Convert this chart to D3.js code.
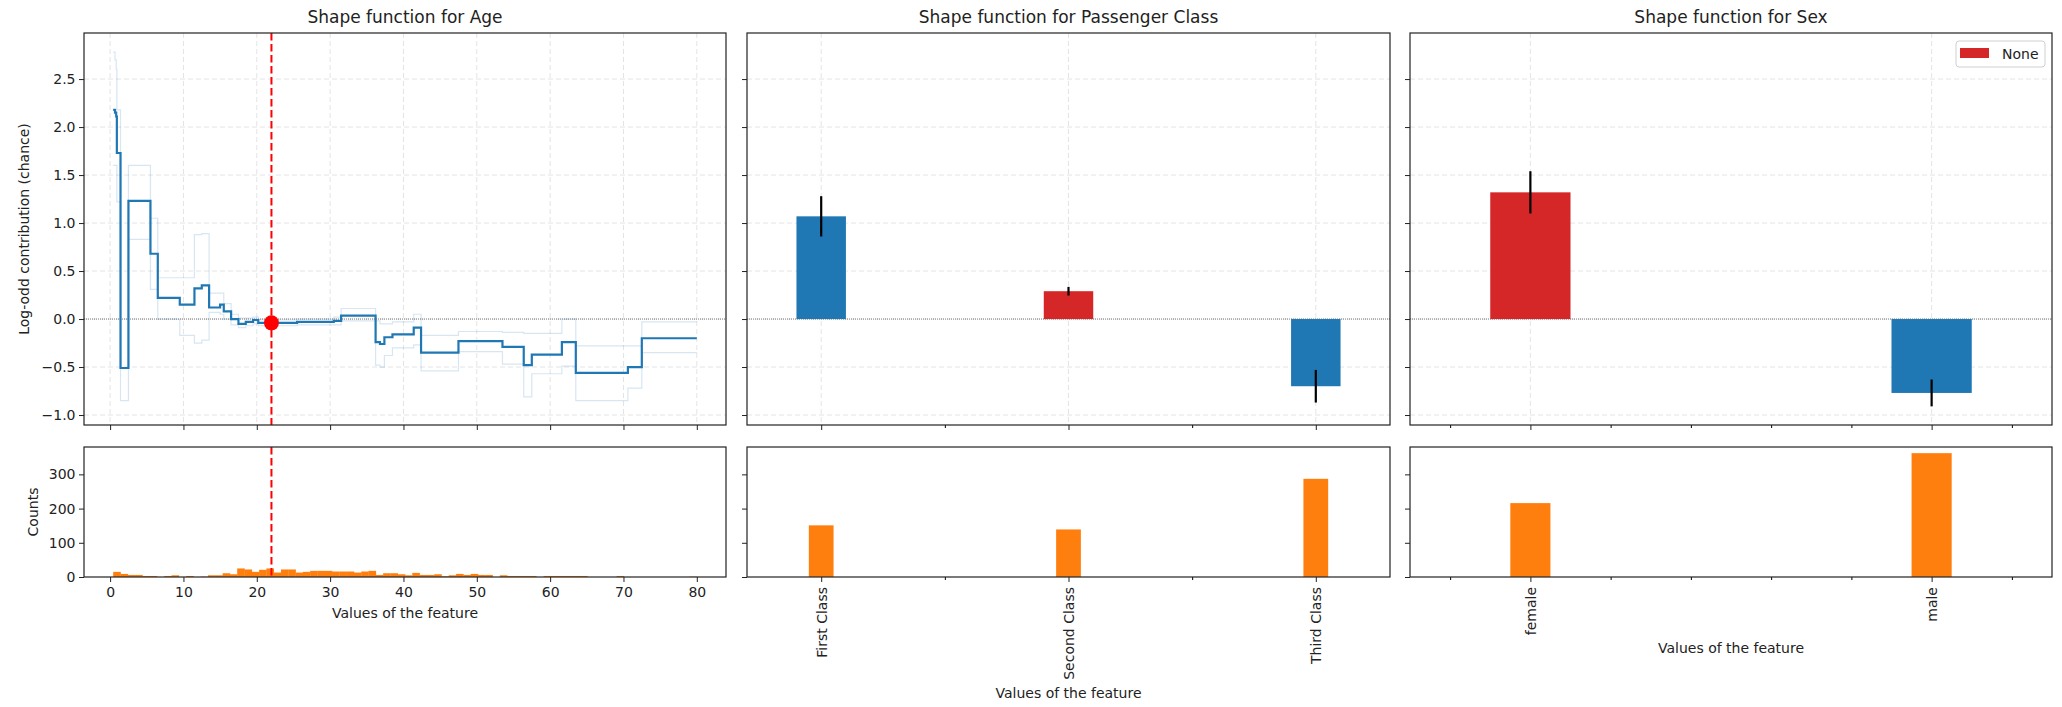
<!DOCTYPE html>
<html>
<head>
<meta charset="utf-8">
<script src="https://cdn.jsdelivr.net/npm/d3@7"></script>
<style>
  body { margin: 0; background: #fff; }
  text { font-family: "DejaVu Sans", sans-serif; fill: #222; }
</style>
</head>
<body>
<svg id="chart" width="2062" height="707"></svg>
<script>
// ---- Age shape function (step starts, values, confidence band) ----
const ageSteps = [0.42, 0.67, 0.83, 0.92, 1.42, 2.5, 5.5, 6.5, 9.5, 11.5, 12.5, 13.5, 15, 15.5, 16.5, 17.5, 18.5, 19.5, 20.2, 25.5, 30.5, 31.5, 36.2, 36.8, 37.4, 38.5, 41.4, 42.4, 47.5, 53.5, 56.4, 57.5, 61.6, 63.5, 70.6, 72.5, 80];
const ageShape = [2.18, 2.15, 2.11, 1.73, -0.51, 1.23, 0.68, 0.22, 0.15, 0.32, 0.35, 0.12, 0.15, 0.08, 0.0, -0.05, -0.03, -0.01, -0.04, -0.03, -0.02, 0.035, -0.24, -0.26, -0.19, -0.16, -0.09, -0.35, -0.23, -0.29, -0.48, -0.37, -0.24, -0.56, -0.50, -0.20, -0.20];
const ageUpper = [2.78, 2.70, 2.60, 2.18, -0.51, 1.60, 1.05, 0.43, 0.43, 0.88, 0.89, 0.27, 0.27, 0.16, 0.05, 0.01, 0.01, 0.02, -0.01, 0.0, 0.02, 0.11, -0.02, -0.05, -0.05, -0.03, 0.05, -0.17, -0.13, -0.14, -0.15, -0.15, 0.0, -0.28, -0.28, -0.03, -0.03];
const ageLower = [1.60, 1.60, 1.60, 1.22, -0.85, 0.83, 0.31, 0.0, -0.17, -0.25, -0.22, 0.07, 0.05, 0.0, -0.06, -0.09, -0.07, -0.05, -0.07, -0.06, -0.06, -0.02, -0.48, -0.50, -0.38, -0.30, -0.27, -0.54, -0.34, -0.47, -0.81, -0.57, -0.49, -0.85, -0.72, -0.35, -0.35];
const selectedAge = 22;
const selectedAgeValue = -0.04;

// ---- Age histogram (bins of ~1 year from 0.42 to 80) ----
const ageBinStart = 0.42, ageBinEnd = 80;
const ageCounts = [15, 9, 6, 6, 3, 3, 0, 3, 5, 0, 3, 0, 1, 5, 5, 11, 8, 25, 22, 15, 21, 25, 13, 22, 22, 13, 15, 18, 18, 18, 16, 16, 16, 13, 16, 18, 6, 11, 11, 8, 5, 12, 6, 6, 8, 2, 5, 9, 6, 9, 6, 6, 0, 5, 3, 3, 3, 3, 0, 3, 3, 3, 3, 3, 3, 0, 0, 0, 0, 3, 0, 0, 0, 0, 0, 0, 0, 0, 0, 1];

// ---- Passenger class ----
const classNames = ["First Class", "Second Class", "Third Class"];
const classEffect = [1.07, 0.29, -0.70];
const classErr = [0.21, 0.045, 0.17];
const classCounts = [151, 139, 287];
const classSelected = [false, true, false];

// ---- Sex ----
const sexNames = ["female", "male"];
const sexEffect = [1.32, -0.77];
const sexErr = [0.22, 0.14];
const sexCounts = [216, 362];
const sexSelected = [true, false];

const effectTicks = [-1.0, -0.5, 0.0, 0.5, 1.0, 1.5, 2.0, 2.5];
const countTicks = [0, 100, 200, 300];
const ageTicks = [0, 10, 20, 30, 40, 50, 60, 70, 80];

const BLUE = "#1f77b4", RED = "#d62728", ORANGE = "#ff7f0e";

const svg = d3.select("#chart");

const yEff = d3.scaleLinear().domain([-1.104, 2.98]).range([425, 33]);
const yCnt = d3.scaleLinear().domain([0, 380]).range([577, 447]);
const xAge = d3.scaleLinear().domain([-3.56, 83.98]).range([84, 726]);
const xCls = d3.scaleLinear().domain([-0.3, 2.3]).range([747, 1390]);
const xSex = d3.scaleLinear().domain([-0.3, 1.3]).range([1410, 2052]);

function panel(x, y, opts) {
  const g = svg.append("g");
  const [x0, x1] = x.range();
  const [y1, y0] = y.range();
  const grid = g.append("g");
  if (opts.grid) {
    grid.selectAll(".gx").data(opts.xTicks).join("line")
      .attr("x1", d => x(d)).attr("x2", d => x(d))
      .attr("y1", y0).attr("y2", y1)
      .attr("stroke", "#e4e4e4").attr("stroke-dasharray", "5,3").attr("stroke-width", 1);
    grid.selectAll(".gy").data(opts.yTicks).join("line")
      .attr("x1", x0).attr("x2", x1)
      .attr("y1", d => y(d)).attr("y2", d => y(d))
      .attr("stroke", "#e4e4e4").attr("stroke-dasharray", "5,3").attr("stroke-width", 1);
  }
  const content = g.append("g");

  // axes
  const ax = g.append("g").attr("transform", `translate(0,${y1})`)
    .call(d3.axisBottom(x).tickValues(opts.xTicks).tickSize(5).tickPadding(5)
      .tickFormat(opts.xLabels ? opts.xFormat : ""));
  if (opts.xMinor) {
    g.append("g").attr("transform", `translate(0,${y1})`)
      .call(d3.axisBottom(x).tickValues(opts.xMinor).tickSize(3).tickFormat(""))
      .call(s => s.select(".domain").remove());
  }
  const ay = g.append("g").attr("transform", `translate(${x0},0)`)
    .call(d3.axisLeft(y).tickValues(opts.yTicks).tickSize(5).tickPadding(3.5)
      .tickFormat(opts.yLabels ? opts.yFormat : ""));
  [ax, ay].forEach(a => {
    a.select(".domain").remove();
    a.selectAll(".tick line").attr("stroke", "#222");
    a.selectAll(".tick text").attr("font-size", 14).attr("fill", "#222")
      .style("font-family", "'DejaVu Sans', sans-serif");
  });
  if (opts.rotateX) {
    ax.selectAll(".tick text")
      .attr("text-anchor", "end")
      .attr("transform", "rotate(-90)")
      .attr("x", -10).attr("y", 0).attr("dy", "0.35em");
  }
  g.append("rect").attr("x", x0).attr("y", y0)
    .attr("width", x1 - x0).attr("height", y1 - y0)
    .attr("fill", "none").attr("stroke", "#222").attr("stroke-width", 1.2);
  return content;
}

// ---------- Age top ----------
const ageTop = panel(xAge, yEff, {
  grid: true, xTicks: ageTicks, yTicks: effectTicks, yLabels: true,
  yFormat: d3.format(".1f"), xLabels: false
});
ageTop.append("line")
  .attr("x1", 84).attr("x2", 726).attr("y1", yEff(0)).attr("y2", yEff(0))
  .attr("stroke", "#777").attr("stroke-width", 1).attr("stroke-dasharray", "1,1");
const stepLine = (vals) => d3.line()
  .x((d, i) => xAge(ageSteps[i])).y(d => yEff(d))
  .curve(d3.curveStepAfter)(vals);
ageTop.append("path").attr("d", stepLine(ageUpper))
  .attr("fill", "none").attr("stroke", BLUE).attr("stroke-opacity", 0.18).attr("stroke-width", 1.2);
ageTop.append("path").attr("d", stepLine(ageLower))
  .attr("fill", "none").attr("stroke", BLUE).attr("stroke-opacity", 0.18).attr("stroke-width", 1.2);
ageTop.append("path").attr("d", stepLine(ageShape))
  .attr("fill", "none").attr("stroke", BLUE).attr("stroke-width", 2.2);
ageTop.append("line")
  .attr("x1", xAge(selectedAge)).attr("x2", xAge(selectedAge))
  .attr("y1", 33).attr("y2", 425)
  .attr("stroke", "red").attr("stroke-width", 2).attr("stroke-dasharray", "7.5,3.5");
ageTop.append("circle")
  .attr("cx", xAge(selectedAge)).attr("cy", yEff(selectedAgeValue)).attr("r", 7.5)
  .attr("fill", "red");

// ---------- Age bottom ----------
const ageBot = panel(xAge, yCnt, {
  grid: false, xTicks: ageTicks, yTicks: countTicks, yLabels: true,
  yFormat: d3.format("d"), xLabels: true, xFormat: d3.format("d")
});
const binW = (ageBinEnd - ageBinStart) / ageCounts.length;
ageBot.selectAll("rect").data(ageCounts).join("rect")
  .attr("x", (d, i) => xAge(ageBinStart + i * binW))
  .attr("width", xAge(binW) - xAge(0) + 0.3)
  .attr("y", d => yCnt(d))
  .attr("height", d => yCnt(0) - yCnt(d))
  .attr("fill", ORANGE);
ageBot.append("line")
  .attr("x1", xAge(selectedAge)).attr("x2", xAge(selectedAge))
  .attr("y1", 447).attr("y2", 577)
  .attr("stroke", "red").attr("stroke-width", 2).attr("stroke-dasharray", "7.5,3.5");

// ---------- categorical panels ----------
function catPanels(x, names, effect, err, counts, selected, minor, xLabelY) {
  const idx = names.map((d, i) => i);
  const top = panel(x, yEff, {
    grid: true, xTicks: idx, xMinor: minor, yTicks: effectTicks, yLabels: false, xLabels: false
  });
  top.append("line")
    .attr("x1", x.range()[0]).attr("x2", x.range()[1]).attr("y1", yEff(0)).attr("y2", yEff(0))
    .attr("stroke", "#777").attr("stroke-width", 1).attr("stroke-dasharray", "1,1");
  top.selectAll("rect").data(idx).join("rect")
    .attr("x", i => x(i - 0.1))
    .attr("width", x(0.2) - x(0))
    .attr("y", i => yEff(Math.max(0, effect[i])))
    .attr("height", i => Math.abs(yEff(effect[i]) - yEff(0)))
    .attr("fill", i => selected[i] ? RED : BLUE);
  top.selectAll(".err").data(idx).join("line")
    .attr("x1", i => x(i)).attr("x2", i => x(i))
    .attr("y1", i => yEff(effect[i] - err[i])).attr("y2", i => yEff(effect[i] + err[i]))
    .attr("stroke", "#000").attr("stroke-width", 2.2);

  const bot = panel(x, yCnt, {
    grid: false, xTicks: idx, xMinor: minor, yTicks: countTicks, yLabels: false,
    xLabels: true, xFormat: i => names[i], rotateX: true
  });
  bot.selectAll("rect").data(idx).join("rect")
    .attr("x", i => x(i - 0.05))
    .attr("width", x(0.1) - x(0))
    .attr("y", i => yCnt(counts[i]))
    .attr("height", i => yCnt(0) - yCnt(counts[i]))
    .attr("fill", ORANGE);

  const [x0, x1] = x.range();
  svg.append("text").attr("x", (x0 + x1) / 2).attr("y", xLabelY)
    .attr("text-anchor", "middle").attr("font-size", 14).text("Values of the feature");
}

catPanels(xCls, classNames, classEffect, classErr, classCounts, classSelected, [0.5, 1.5], 698);
catPanels(xSex, sexNames, sexEffect, sexErr, sexCounts, sexSelected, [-0.2, 0.2, 0.4, 0.6, 0.8, 1.2], 653);

// ---------- titles and labels ----------
const titles = ["Shape function for Age", "Shape function for Passenger Class", "Shape function for Sex"];
[xAge, xCls, xSex].forEach((x, i) => {
  const [x0, x1] = x.range();
  svg.append("text").attr("x", (x0 + x1) / 2).attr("y", 23)
    .attr("text-anchor", "middle").attr("font-size", 17).text(titles[i]);
});
svg.append("text").attr("x", 405).attr("y", 618)
  .attr("text-anchor", "middle").attr("font-size", 14).text("Values of the feature");
svg.append("text").attr("transform", "translate(29,229) rotate(-90)")
  .attr("text-anchor", "middle").attr("font-size", 14).text("Log-odd contribution (chance)");
svg.append("text").attr("transform", "translate(38,512) rotate(-90)")
  .attr("text-anchor", "middle").attr("font-size", 14).text("Counts");

// ---------- legend ----------
const lg = svg.append("g");
lg.append("rect").attr("x", 1956).attr("y", 41).attr("width", 89).attr("height", 26)
  .attr("rx", 3).attr("fill", "#fff").attr("fill-opacity", 0.8)
  .attr("stroke", "#d0d0d0").attr("stroke-width", 1);
lg.append("rect").attr("x", 1960).attr("y", 48).attr("width", 29).attr("height", 10).attr("fill", RED);
lg.append("text").attr("x", 2002).attr("y", 58.5).attr("font-size", 14).text("None");
</script>
</body>
</html>
